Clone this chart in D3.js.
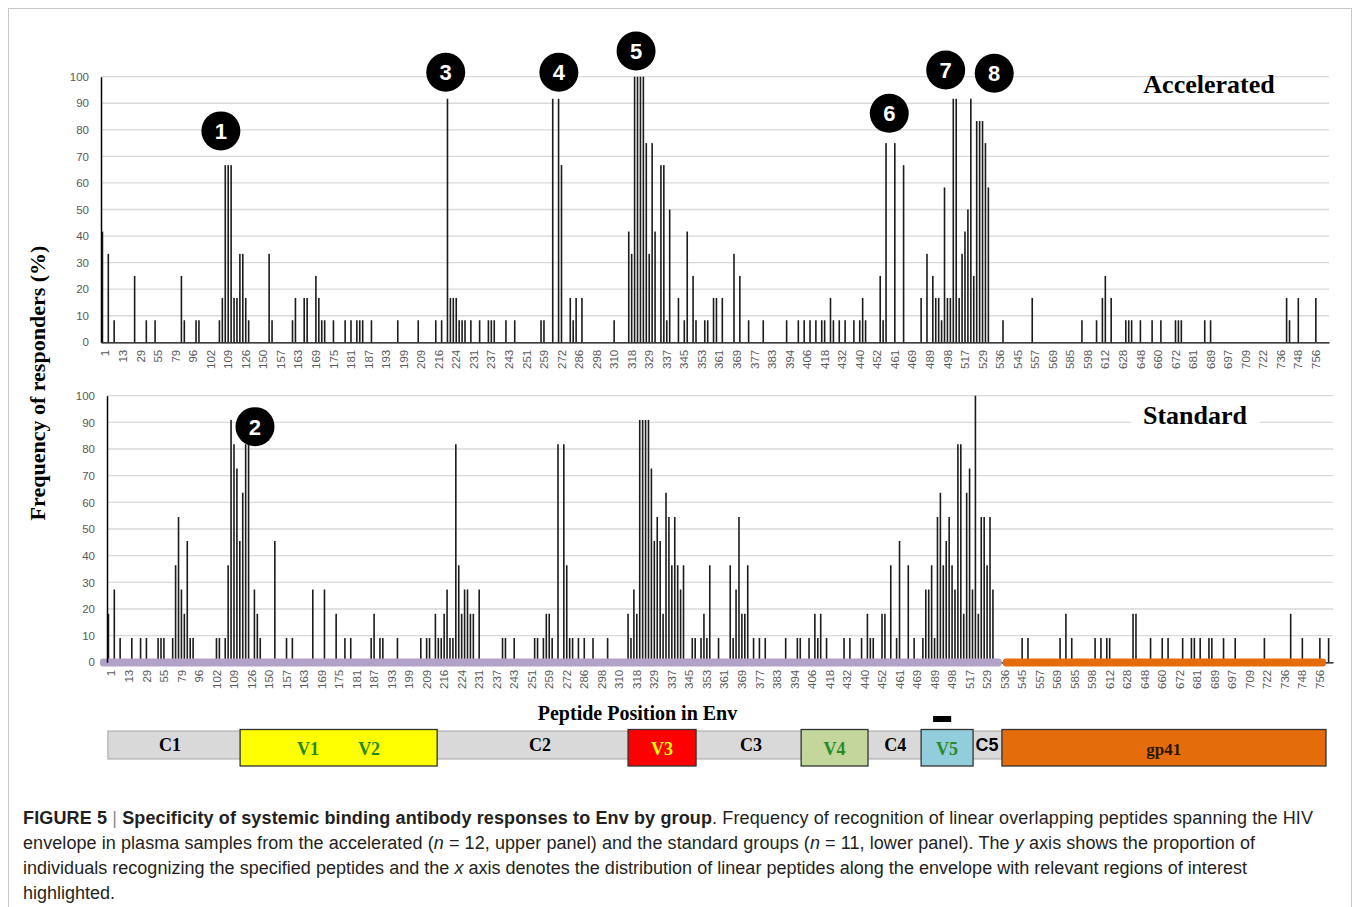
<!DOCTYPE html>
<html>
<head>
<meta charset="utf-8">
<script src="https://cdn.jsdelivr.net/npm/d3@7"></script>
<style>
  body { margin: 0; background: #fff; }
  svg { display: block; }
</style>
</head>
<body>
<div id="chart"></div>
<script>
// peptides along Env, one category each; every 6th one carries a label
const nPeptides = 420;
const tickLabels = ["1","13","29","55","79","96","102","109","126","150","157","163","169","175","181","187","193","199","209","216","224","231","237","243","251","259","272","286","298","310","318","329","337","345","353","361","369","377","383","394","406","418","432","440","452","461","469","489","498","517","529","536","545","557","569","585","598","612","628","648","660","672","681","689","697","709","722","736","748","756"];

// [peptide index, % responders], accelerated group (n = 12)
const acceleratedHits = [
  [0,41.7],[2,33.3],[4,8.3],[11,25],[15,8.3],[18,8.3],[27,25],[28,8.3],[32,8.3],[33,8.3],
  [40,8.3],[41,16.7],[42,66.7],[43,66.7],[44,66.7],[45,16.7],[46,16.7],[47,33.3],[48,33.3],[49,16.7],
  [50,8.3],[57,33.3],[58,8.3],[65,8.3],[66,16.7],[69,16.7],[70,16.7],[73,25],[74,16.7],[75,8.3],
  [76,8.3],[79,8.3],[83,8.3],[85,8.3],[87,8.3],[88,8.3],[89,8.3],[92,8.3],
  [101,8.3],[108,8.3],[114,8.3],[116,8.3],[118,91.7],[119,16.7],[120,16.7],[121,16.7],[122,8.3],[123,8.3],
  [124,8.3],[126,8.3],[129,8.3],[132,8.3],[133,8.3],[134,8.3],[138,8.3],[141,8.3],[150,8.3],[151,8.3],
  [154,91.7],[156,91.7],[157,66.7],[160,16.7],[161,8.3],[162,16.7],[164,16.7],[175,8.3],
  [180,41.7],[181,33.3],[182,100],[183,100],[184,100],[185,100],[186,75],[187,33.3],[188,75],[189,41.7],
  [191,66.7],[192,66.7],[193,8.3],[194,50],[197,16.7],[199,8.3],[200,41.7],[202,25],[203,8.3],
  [206,8.3],[207,8.3],[209,16.7],[210,16.7],[212,16.7],[216,33.3],[218,25],[221,8.3],[226,8.3],
  [234,8.3],[238,8.3],[240,8.3],[242,8.3],[244,8.3],[246,8.3],[247,8.3],[249,16.7],[250,8.3],
  [252,8.3],[254,8.3],[257,8.3],[259,8.3],[260,16.7],[261,8.3],[266,25],[267,8.3],[268,75],
  [271,75],[274,66.7],[280,16.7],[282,33.3],[284,25],[285,16.7],[286,16.7],[287,8.3],[288,58.3],
  [289,16.7],[290,16.7],[291,91.7],[292,91.7],[293,16.7],[294,33.3],[295,41.7],[296,50],[297,91.7],
  [298,25],[299,83.3],[300,83.3],[301,83.3],[302,75],[303,58.3],[308,8.3],[318,16.7],
  [335,8.3],[340,8.3],[342,16.7],[343,25],[345,16.7],[350,8.3],[351,8.3],[352,8.3],[355,8.3],
  [359,8.3],[362,8.3],[367,8.3],[368,8.3],[369,8.3],[377,8.3],[379,8.3],[405,16.7],[406,8.3],
  [409,16.7],[415,16.7]
];

// [peptide index, % responders], standard group (n = 11)
const standardHits = [
  [0,18.2],[2,27.3],[4,9.1],[8,9.1],[11,9.1],[13,9.1],[17,9.1],[18,9.1],[19,9.1],[22,9.1],
  [23,36.4],[24,54.5],[25,27.3],[26,18.2],[27,45.5],[28,9.1],[29,9.1],[37,9.1],[38,9.1],[40,9.1],
  [41,36.4],[42,90.9],[43,81.8],[44,72.7],[45,45.5],[46,63.6],[47,81.8],[48,81.8],[50,27.3],[51,18.2],
  [52,9.1],[57,45.5],[61,9.1],[63,9.1],[70,27.3],[74,27.3],[78,18.2],[81,9.1],[83,9.1],[90,9.1],
  [91,18.2],[93,9.1],[94,9.1],[99,9.1],[107,9.1],[109,9.1],[110,9.1],[112,18.2],[113,9.1],[114,9.1],
  [115,18.2],[116,27.3],[117,9.1],[118,9.1],[119,81.8],[120,36.4],[121,18.2],[122,27.3],[123,27.3],
  [124,18.2],[125,18.2],[127,27.3],[135,9.1],[136,9.1],[139,9.1],[146,9.1],[147,9.1],[149,9.1],
  [150,18.2],[151,18.2],[152,9.1],[154,81.8],[156,81.8],[157,36.4],[158,9.1],[159,9.1],[161,9.1],
  [163,9.1],[166,9.1],[171,9.1],[178,18.2],[179,9.1],[180,27.3],[181,18.2],[182,90.9],[183,90.9],
  [184,90.9],[185,90.9],[186,72.7],[187,45.5],[188,54.5],[189,45.5],[190,18.2],[191,63.6],[192,54.5],
  [193,36.4],[194,54.5],[195,36.4],[196,27.3],[197,36.4],[200,9.1],[201,9.1],[203,9.1],[204,18.2],
  [205,9.1],[206,36.4],[209,9.1],[213,36.4],[214,9.1],[215,27.3],[216,54.5],[217,18.2],[218,18.2],
  [219,36.4],[221,9.1],[223,9.1],[225,9.1],[232,9.1],[236,9.1],[237,9.1],[240,9.1],[242,18.2],
  [243,9.1],[244,18.2],[246,9.1],[252,9.1],[254,9.1],[258,9.1],[260,18.2],[261,9.1],[262,9.1],
  [265,18.2],[266,18.2],[268,36.4],[270,9.1],[271,45.5],[274,36.4],[276,9.1],[279,9.1],[280,27.3],
  [281,27.3],[282,36.4],[283,9.1],[284,54.5],[285,63.6],[286,36.4],[287,45.5],[288,54.5],[289,36.4],
  [290,27.3],[291,81.8],[292,81.8],[293,18.2],[294,63.6],[295,72.7],[296,27.3],[297,100],[298,18.2],
  [299,54.5],[300,54.5],[301,36.4],[302,54.5],[303,27.3],[313,9.1],[315,9.1],[326,9.1],[328,18.2],
  [330,9.1],[338,9.1],[340,9.1],[342,9.1],[343,9.1],[351,18.2],[352,18.2],[357,9.1],[361,9.1],
  [363,9.1],[368,9.1],[371,9.1],[372,9.1],[374,9.1],[377,9.1],[378,9.1],[382,9.1],[386,9.1],
  [396,9.1],[405,18.2],[409,9.1],[415,9.1],[418,9.1]
];

// numbered call-outs: [label, panel, peptide position, height in %]
const markers = [
  ["1","acc",40.5,79.6],["2","std",50.2,88.4],["3","acc",117.4,101.7],["4","acc",156.1,101.7],
  ["5","acc",182.5,109.7],["6","acc",269.1,86.2],["7","acc",288.4,102.5],["8","acc",305.0,101.3]
];

// Env map below the panels, in peptide units
const backbone = [0.3, 306.6];
const regionBoxes = [
  {name: "V1V2", from: 45.6, to: 113.1, fill: "#ffff00"},
  {name: "V3", from: 178.5, to: 201.8, fill: "#ff0000"},
  {name: "V4", from: 237.8, to: 260.7, fill: "#c3d69b"},
  {name: "V5", from: 278.9, to: 296.7, fill: "#92cddc"},
  {name: "gp41", from: 306.6, to: 417.6, fill: "#e46c0a"}
];
const regionLabels = [
  ["C1",21.6,"#000","serif"],["V1",68.9,"#1f8a1f","serif"],["V2",89.8,"#1f8a1f","serif"],
  ["C2",148.3,"#000","serif"],["V3",190.1,"#ffff00","serif"],["C3",220.6,"#000","serif"],
  ["V4",249.2,"#2a8a2a","serif"],["C4",270,"#000","serif"],["V5",287.8,"#2a8a2a","serif"],
  ["C5",301.5,"#000","sans"],["gp41",362,"#2b1700","serif"]
];

const W = 1354, H = 907;
const svg = d3.select("#chart").append("svg").attr("width", W).attr("height", H);

svg.append("rect").attr("x", 8.5).attr("y", 8.5).attr("width", 1343).attr("height", 910)
  .attr("fill", "none").attr("stroke", "#c8c8c8");

const panels = {
  acc: {title: "Accelerated", hits: acceleratedHits, left: 101, right: 1329, bottom: 342.3, top: 76.7, titleX: 1209, titleY: 92.5},
  std: {title: "Standard", hits: standardHits, left: 107, right: 1333, bottom: 662.3, top: 395.7, titleX: 1195, titleY: 423.5}
};

function drawPanel(key) {
  const p = panels[key];
  const x = d3.scaleBand().domain(d3.range(nPeptides)).range([p.left, p.right]);
  const pos = d3.scaleLinear().domain([0, nPeptides]).range([p.left, p.right]);
  const y = d3.scaleLinear().domain([0, 100]).range([p.bottom, p.top]);
  p.x = x; p.pos = pos; p.y = y;
  const g = svg.append("g");

  g.append("g").selectAll("line").data(d3.range(10, 101, 10)).join("line")
    .attr("x1", p.left).attr("x2", p.right)
    .attr("y1", d => y(d)).attr("y2", d => y(d))
    .attr("stroke", "#d9d9d9").attr("stroke-width", 1.3);

  const title = g.append("text")
    .attr("x", p.titleX).attr("y", p.titleY)
    .attr("text-anchor", "middle")
    .style("font-family", "'Liberation Serif', serif")
    .style("font-weight", "bold").style("font-size", "26px")
    .text(p.title);
  if (key === "std") {
    const bb = title.node().getBBox();
    g.insert("rect", "text").attr("x", bb.x - 12).attr("y", bb.y - 2)
      .attr("width", bb.width + 24).attr("height", bb.height + 2).attr("fill", "#fff");
  }

  const barW = 1.6;
  g.append("g").selectAll("rect").data(p.hits).join("rect")
    .attr("x", d => x(d[0]) + x.bandwidth() / 2 - barW / 2)
    .attr("y", d => y(d[1]))
    .attr("width", barW)
    .attr("height", d => y(0) - y(d[1]))
    .attr("fill", "#1c1c1c");

  const xAxis = g.append("g").attr("transform", `translate(0,${p.bottom})`)
    .call(d3.axisBottom(x)
      .tickValues(d3.range(0, nPeptides, 6))
      .tickFormat(i => tickLabels[i / 6])
      .tickSize(0).tickSizeOuter(0));
  xAxis.select(".domain").attr("stroke", "#000").attr("stroke-width", 1.3);
  xAxis.selectAll("text")
    .attr("transform", "rotate(-90)")
    .attr("text-anchor", "end")
    .attr("x", -7.5).attr("y", 3).attr("dy", "0.35em")
    .attr("fill", "#595959")
    .style("font-family", "'Liberation Sans', sans-serif").style("font-size", "11.5px");

  if (key === "std") {
    g.append("rect").attr("x", pos(-2.4)).attr("y", p.bottom - 3.8)
      .attr("width", pos(306.5) - pos(-2.4)).attr("height", 8).attr("rx", 3)
      .attr("fill", "#b3a2c7");
    g.append("rect").attr("x", pos(306.9)).attr("y", p.bottom - 3.8)
      .attr("width", pos(417.6) - pos(306.9)).attr("height", 8).attr("rx", 3)
      .attr("fill", "#e46c0a");
  }

  const yAxis = g.append("g").attr("transform", `translate(${p.left},0)`)
    .call(d3.axisLeft(y).tickValues(d3.range(0, 101, 10)).tickSize(0).tickPadding(12).tickSizeOuter(0));
  yAxis.select(".domain").attr("stroke", "#000").attr("stroke-width", 1.5);
  yAxis.selectAll("text")
    .attr("fill", "#595959")
    .style("font-family", "'Liberation Sans', sans-serif").style("font-size", "11.5px");
}

drawPanel("acc");
drawPanel("std");

// call-outs
const mk = svg.append("g").selectAll("g").data(markers).join("g")
  .attr("transform", d => `translate(${panels[d[1]].pos(d[2] + 0.5)},${panels[d[1]].y(d[3])})`);
mk.append("circle").attr("r", 19.5).attr("fill", "#000");
mk.append("text").attr("text-anchor", "middle").attr("dy", "0.36em")
  .attr("fill", "#fff")
  .style("font-family", "'Liberation Sans', sans-serif").style("font-weight", "bold").style("font-size", "22px")
  .text(d => d[0]);

// axis titles
svg.append("text")
  .attr("transform", "translate(45,383) rotate(-90)")
  .attr("text-anchor", "middle")
  .style("font-family", "'Liberation Serif', serif").style("font-weight", "bold").style("font-size", "22px")
  .text("Frequency of responders (%)");

svg.append("text")
  .attr("x", 637.5).attr("y", 719.5).attr("text-anchor", "middle")
  .style("font-family", "'Liberation Serif', serif").style("font-weight", "bold").style("font-size", "20px")
  .text("Peptide Position in Env");

// Env map
const envPos = panels.std.pos;
const env = svg.append("g");
env.append("rect").attr("x", envPos(backbone[0])).attr("y", 731)
  .attr("width", envPos(backbone[1]) - envPos(backbone[0])).attr("height", 28)
  .attr("fill", "#d9d9d9").attr("stroke", "#a6a6a6").attr("stroke-width", 1);
env.selectAll("rect.box").data(regionBoxes).join("rect").attr("class", "box")
  .attr("x", d => envPos(d.from)).attr("y", 729.5)
  .attr("width", d => envPos(d.to) - envPos(d.from)).attr("height", 36.5)
  .attr("fill", d => d.fill).attr("stroke", "#333").attr("stroke-width", 1.3);
env.append("rect").attr("x", envPos(283)).attr("y", 716)
  .attr("width", envPos(289.2) - envPos(283)).attr("height", 6).attr("fill", "#000");
env.selectAll("text").data(regionLabels).join("text")
  .attr("x", d => envPos(d[1]))
  .attr("y", d => (d[0][0] === "C" ? 750.5 : 754.5))
  .attr("text-anchor", "middle")
  .attr("fill", d => d[2])
  .style("font-family", d => d[3] === "sans" ? "'Liberation Sans', sans-serif" : "'Liberation Serif', serif")
  .style("font-weight", "bold")
  .style("font-size", d => d[0] === "gp41" ? "17px" : "18px")
  .text(d => d[0]);

// caption
const cap = svg.append("g")
  .style("font-family", "'Liberation Sans', sans-serif").style("font-size", "18px")
  .attr("fill", "#231f20");
const l1 = cap.append("text").attr("x", 23).attr("y", 823.5)
  .attr("textLength", 1290).attr("lengthAdjust", "spacing");
l1.append("tspan").style("font-weight", "bold").text("FIGURE 5");
l1.append("tspan").attr("fill", "#8c8c8c").text(" | ");
l1.append("tspan").style("font-weight", "bold").text("Specificity of systemic binding antibody responses to Env by group");
l1.append("tspan").text(". Frequency of recognition of linear overlapping peptides spanning the HIV");
const l2 = cap.append("text").attr("x", 23).attr("y", 849)
  .attr("textLength", 1232).attr("lengthAdjust", "spacing");
l2.append("tspan").text("envelope in plasma samples from the accelerated (");
l2.append("tspan").style("font-style", "italic").text("n");
l2.append("tspan").text(" = 12, upper panel) and the standard groups (");
l2.append("tspan").style("font-style", "italic").text("n");
l2.append("tspan").text(" = 11, lower panel). The ");
l2.append("tspan").style("font-style", "italic").text("y");
l2.append("tspan").text(" axis shows the proportion of");
const l3 = cap.append("text").attr("x", 23).attr("y", 874)
  .attr("textLength", 1224).attr("lengthAdjust", "spacing");
l3.append("tspan").text("individuals recognizing the specified peptides and the ");
l3.append("tspan").style("font-style", "italic").text("x");
l3.append("tspan").text(" axis denotes the distribution of linear peptides along the envelope with relevant regions of interest");
cap.append("text").attr("x", 23).attr("y", 898.5).text("highlighted.");
</script>
</body>
</html>
